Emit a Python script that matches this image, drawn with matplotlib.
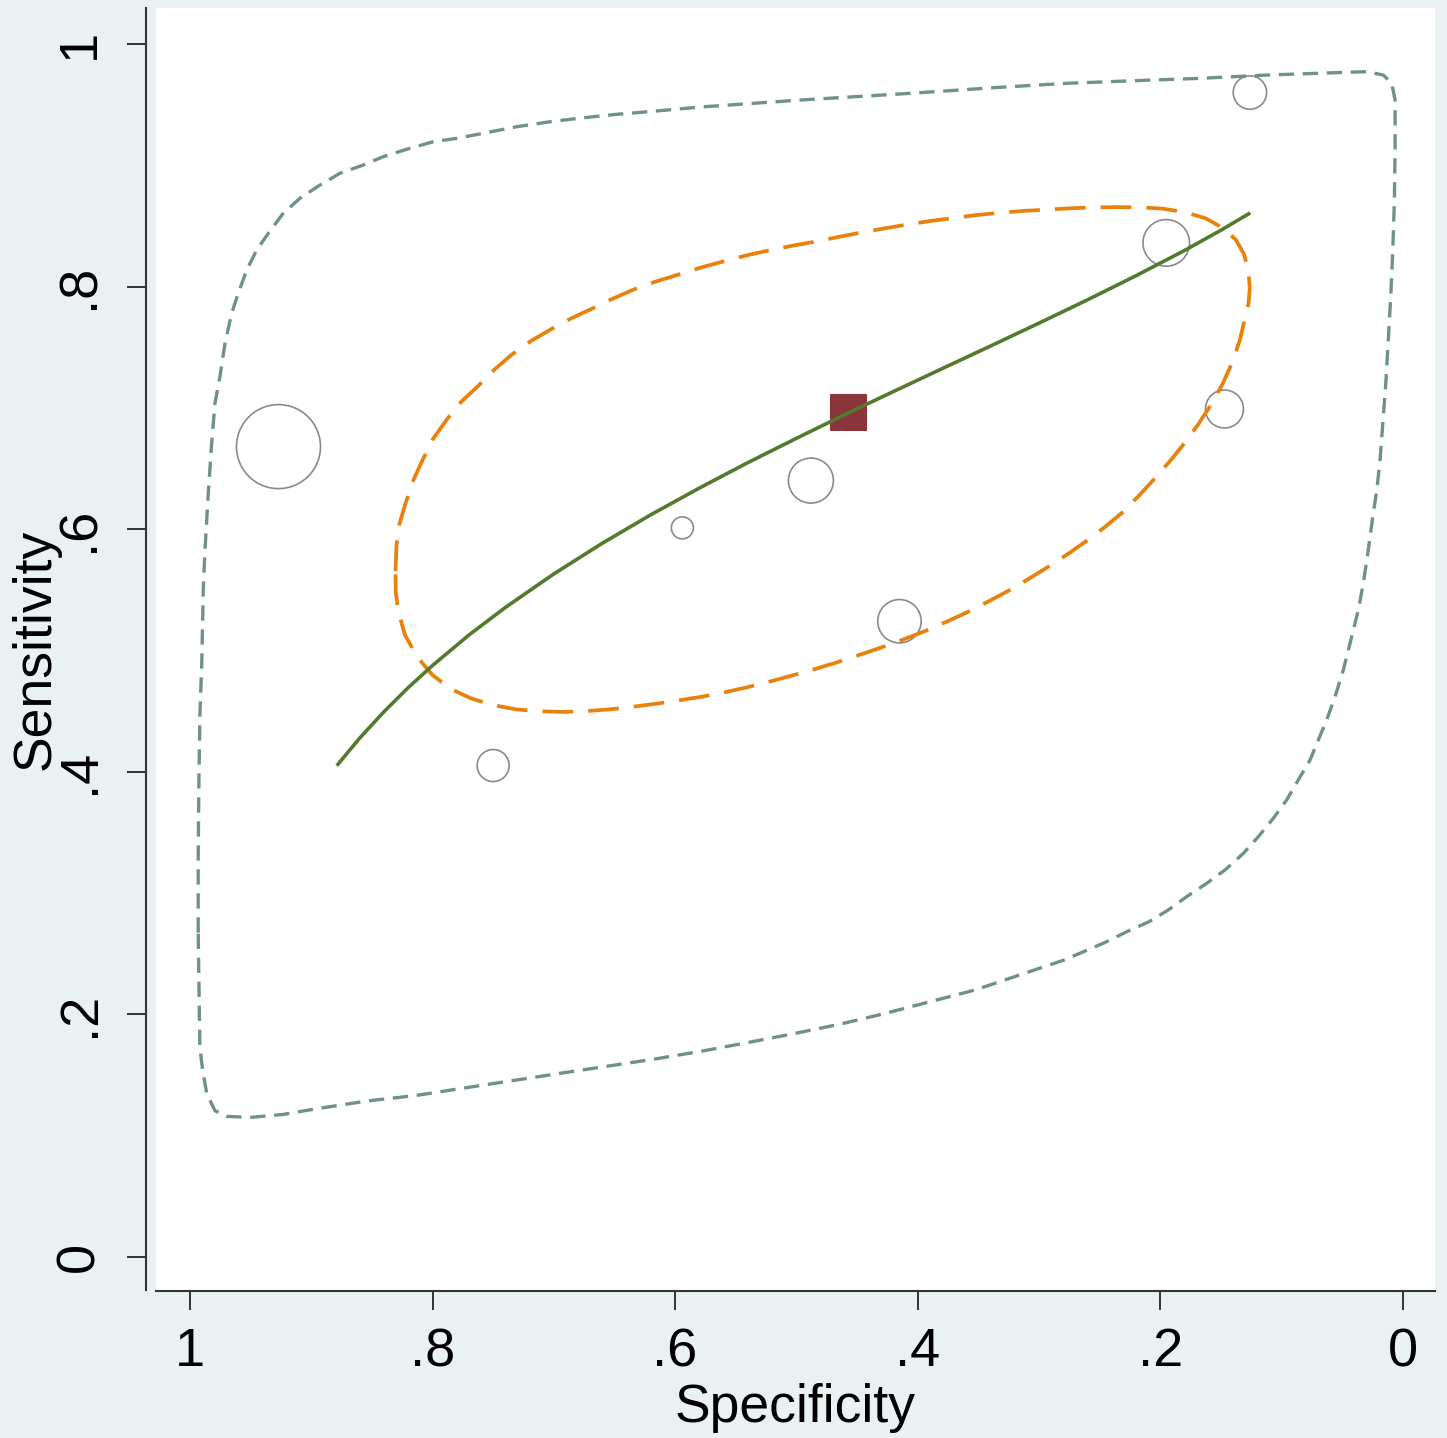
import matplotlib
matplotlib.use("Agg")
import matplotlib.pyplot as plt

# ---------------- data ----------------
# individual studies (specificity, sensitivity) and marker radius (px, ~ study weight)
study_spec = [0.927, 0.750, 0.594, 0.488, 0.415, 0.195, 0.147, 0.126]
study_sens = [0.668, 0.405, 0.601, 0.640, 0.524, 0.836, 0.699, 0.960]
study_size = [42, 16, 11, 22.5, 21.7, 23.3, 19, 16.7]

# summary operating point
summary_spec = [0.457]
summary_sens = [0.6965]

# SROC curve
sroc_spec = [0.878, 0.86, 0.84, 0.82, 0.80, 0.77, 0.74, 0.70, 0.66, 0.62, 0.58, 0.54,
             0.50, 0.46, 0.42, 0.38, 0.34, 0.30, 0.26, 0.22, 0.18, 0.15, 0.127]
sroc_sens = [0.406, 0.4277, 0.4494, 0.4693, 0.4875, 0.5126, 0.5353, 0.5630, 0.5883,
             0.6118, 0.6338, 0.6548, 0.6748, 0.6944, 0.7134, 0.7322, 0.7509, 0.7698,
             0.789, 0.8089, 0.8297, 0.8464, 0.860]

# 95% confidence region
conf_spec = [0.8305, 0.8297, 0.8273, 0.8226, 0.8165, 0.8084, 0.7996, 0.7881, 0.7765,
             0.7626, 0.7493, 0.735, 0.7188, 0.7019, 0.685, 0.6681, 0.6512, 0.634,
             0.6157, 0.5972, 0.5786, 0.5598, 0.5415, 0.523, 0.5036, 0.4842, 0.4652,
             0.4463, 0.4277, 0.4096, 0.3898, 0.3719, 0.3527, 0.3327, 0.3139, 0.2943,
             0.2752, 0.2565, 0.2372, 0.2173, 0.1985, 0.1795, 0.1622, 0.1482, 0.1375,
             0.1309, 0.1272, 0.1261, 0.1271, 0.13, 0.1343, 0.1403, 0.1486, 0.1582,
             0.1684, 0.1795, 0.1915, 0.2043, 0.217, 0.2304, 0.2451, 0.2606, 0.276,
             0.2922, 0.3086, 0.3252, 0.3424, 0.3595, 0.3766, 0.3933, 0.4199, 0.4434,
             0.4661, 0.4846, 0.5032, 0.5217, 0.5403, 0.5593, 0.5781, 0.5976, 0.6167,
             0.6347, 0.653, 0.6718, 0.6909, 0.7114, 0.731, 0.7501, 0.7681, 0.7856,
             0.8005, 0.8128, 0.8226, 0.8281, 0.8303, 0.8305]
conf_sens = [0.5654, 0.5869, 0.6042, 0.6199, 0.6388, 0.6565, 0.6743, 0.6905, 0.7048,
             0.7178, 0.7312, 0.7436, 0.7551, 0.765, 0.7741, 0.7819, 0.7901, 0.7976,
             0.8042, 0.8099, 0.8157, 0.8208, 0.8256, 0.8297, 0.8336, 0.8371, 0.8409,
             0.8446, 0.8479, 0.8509, 0.854, 0.8563, 0.8588, 0.8608, 0.8623, 0.8634,
             0.8645, 0.8652, 0.8655, 0.8653, 0.8643, 0.8613, 0.8561, 0.8483, 0.8384,
             0.8268, 0.8128, 0.7988, 0.7864, 0.7741, 0.7559, 0.738, 0.7196, 0.7023,
             0.6867, 0.6714, 0.6566, 0.6419, 0.6281, 0.6143, 0.6021, 0.5903, 0.5795,
             0.569, 0.5588, 0.5491, 0.5399, 0.5312, 0.5234, 0.5161, 0.5058, 0.4978,
             0.4902, 0.4846, 0.4793, 0.4743, 0.4696, 0.4654, 0.4617, 0.4586, 0.4558,
             0.4535, 0.4514, 0.45, 0.4492, 0.4497, 0.4513, 0.4549, 0.4603, 0.4685,
             0.4801, 0.4949, 0.5124, 0.5316, 0.5481, 0.5654]

# 95% prediction region
pred_spec = [0.9932, 0.9932, 0.9926, 0.9918, 0.9903, 0.989, 0.9876, 0.9849, 0.9821,
             0.9794, 0.9753, 0.9711, 0.9656, 0.9602, 0.9532, 0.945, 0.9354, 0.9231,
             0.9093, 0.8928, 0.8763, 0.8571, 0.8406, 0.8186, 0.7994, 0.7801, 0.7581,
             0.7306, 0.7031, 0.6757, 0.6482, 0.6207, 0.5795, 0.497, 0.4145, 0.3321,
             0.2771, 0.2221, 0.1671, 0.1121, 0.0572, 0.0297, 0.016, 0.0091, 0.0063,
             0.0063, 0.0069, 0.0082, 0.0099, 0.0138, 0.0187, 0.0214, 0.0247, 0.0284,
             0.0325, 0.0366, 0.0421, 0.049, 0.0558, 0.0627, 0.0696, 0.0764, 0.0861,
             0.0957, 0.1067, 0.1191, 0.1314, 0.1465, 0.1616, 0.1781, 0.1933, 0.2092,
             0.2275, 0.2459, 0.279, 0.3159, 0.3527, 0.3895, 0.4263, 0.4632, 0.5036,
             0.5404, 0.5772, 0.6177, 0.6582, 0.6894, 0.7306, 0.7718, 0.8131, 0.8543,
             0.8955, 0.9231, 0.9505, 0.9697, 0.9794, 0.9862, 0.9895, 0.9918, 0.9923,
             0.9932]
pred_sens = [0.2672, 0.3303, 0.3934, 0.447, 0.4881, 0.5512, 0.5828, 0.6295, 0.6707,
             0.7037, 0.7257, 0.7532, 0.7779, 0.7944, 0.8136, 0.8301, 0.8439, 0.8604,
             0.8728, 0.8837, 0.8934, 0.9002, 0.9071, 0.914, 0.9194, 0.9222, 0.9264,
             0.9318, 0.9359, 0.9392, 0.9420, 0.9443, 0.948, 0.9538, 0.9588, 0.9643,
             0.9676, 0.9697, 0.9717, 0.9744, 0.9763, 0.9772, 0.9744, 0.9676, 0.9538,
             0.9126, 0.8714, 0.8301, 0.7916, 0.7229, 0.657, 0.6322, 0.6102, 0.5828,
             0.5553, 0.5333, 0.5113, 0.4838, 0.4618, 0.4426, 0.4261, 0.4096, 0.3931,
             0.3766, 0.3615, 0.3463, 0.3326, 0.3189, 0.3079, 0.2969, 0.2859, 0.2762,
             0.268, 0.2589, 0.2447, 0.2323, 0.2199, 0.2103, 0.2007, 0.1919, 0.1836,
             0.1765, 0.1696, 0.1628, 0.1567, 0.152, 0.1457, 0.1394, 0.133, 0.1283,
             0.122, 0.1173, 0.1148, 0.1157, 0.1204, 0.1347, 0.1535, 0.1725, 0.2041,
             0.2672]

xticks = [1, 0.8, 0.6, 0.4, 0.2, 0]
xticklabels = ["1", ".8", ".6", ".4", ".2", "0"]
yticks = [0, 0.2, 0.4, 0.6, 0.8, 1]
yticklabels = ["0", ".2", ".4", ".6", ".8", "1"]

# ---------------- figure ----------------
W, H = 1447, 1438
DPI = 100
BG = "#e9f1f3"
plt.rcParams["font.family"] = ["Liberation Sans", "DejaVu Sans"]

fig = plt.figure(figsize=(W / DPI, H / DPI), dpi=DPI, facecolor=BG)
ax = fig.add_axes([156 / W, (H - 1290) / H, (1435 - 156) / W, (1290 - 8) / H])
ax.set_facecolor("white")

px2pt = 72.0 / DPI
sizes = [(2 * r * px2pt) ** 2 for r in study_size]

ax.scatter(study_spec, study_sens, s=sizes, facecolors="none",
           edgecolors="#8a8a8a", linewidths=1.2, zorder=2)
sq = ax.scatter(summary_spec, summary_sens, marker="s", s=(35 * px2pt) ** 2,
                color="#8a343b", edgecolors="#8a343b", linewidths=1.5, zorder=3)
sq.set_joinstyle("round")

ax.plot(pred_spec, pred_sens, color="#6f9284", lw=2.4,
        dashes=(4.6, 2.6), zorder=4)
ax.plot(conf_spec, conf_sens, color="#e8820c", lw=2.7,
        dashes=(8.2, 4.0), zorder=5)
ax.plot(sroc_spec, sroc_sens, color="#557a2d", lw=2.6, zorder=6)

ax.set_xlim(1.028, -0.0266)
ax.set_ylim(-0.0275, 1.0297)

ax.set_xticks(xticks)
ax.set_xticklabels(xticklabels)
ax.set_yticks(yticks)
ax.set_yticklabels(yticklabels)

for s in ["top", "right"]:
    ax.spines[s].set_visible(False)
ax.spines["left"].set_position(("outward", 7))
ax.spines["bottom"].set_position(("outward", 0.5))
for s in ["left", "bottom"]:
    ax.spines[s].set_color("#333333")
    ax.spines[s].set_linewidth(1.5)

ax.tick_params(axis="both", direction="out", length=14, width=1.4,
               color="#333333", labelsize=39, labelcolor="black")
ax.tick_params(axis="x", pad=12.5)
ax.tick_params(axis="y", pad=16, labelrotation=90)
for lab in ax.get_yticklabels():
    lab.set_verticalalignment("center")

ax.set_xlabel("Specificity", fontsize=38.5)
ax.set_ylabel("Sensitivity", fontsize=38.5)
ax.xaxis.set_label_coords(0.5, -0.0722)
ax.yaxis.set_label_coords(-0.0743, 0.5)

fig.savefig("out.png", dpi=DPI, facecolor=BG)
